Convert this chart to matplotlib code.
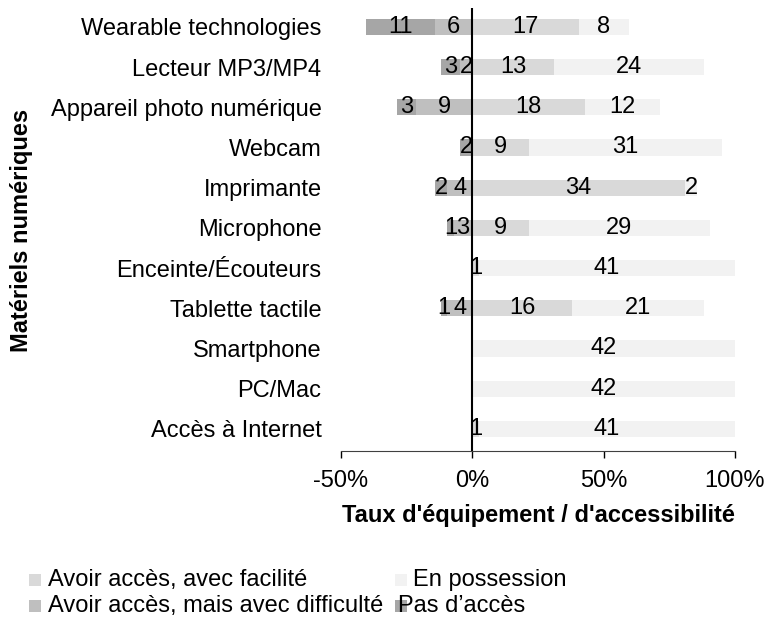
import matplotlib
matplotlib.use('Agg')
import matplotlib.pyplot as plt
from matplotlib.patches import Rectangle
from matplotlib.ticker import FuncFormatter

plt.rcParams['font.family'] = ['Liberation Sans', 'DejaVu Sans']

categories = [
    'Wearable technologies', 'Lecteur MP3/MP4', 'Appareil photo numérique',
    'Webcam', 'Imprimante', 'Microphone', 'Enceinte/Écouteurs',
    'Tablette tactile', 'Smartphone', 'PC/Mac', 'Accès à Internet',
]
pas_acces = [11, 3, 3, 2, 2, 1, 0, 1, 0, 0, 0]
difficulte = [6, 2, 9, 0, 4, 3, 0, 4, 0, 0, 0]
facilite = [17, 13, 18, 9, 34, 9, 1, 16, 0, 0, 1]
possession = [8, 24, 12, 31, 2, 29, 41, 21, 42, 42, 41]

series_names = ['Avoir accès, avec facilité', 'En possession',
                'Avoir accès, mais avec difficulté', "Pas d’accès"]
colors = {'pas': '#a6a6a6', 'diff': '#bfbfbf', 'fac': '#d9d9d9', 'pos': '#f2f2f2'}

FS = 17
fig = plt.figure(figsize=(7.68, 6.38), dpi=100)
ax = fig.add_axes([341 / 768, 1 - 451 / 638, (735 - 341) / 768, (451 - 8) / 638])

y = list(range(len(categories)))
h = 0.4


def seg(y_i, left, width, count, color):
    ax.barh(y_i, width, left=left, height=h, color=color, linewidth=0)
    if count:
        ax.text(left + width / 2, y_i, str(count), ha='center', va='center', fontsize=FS)


for y_i in y:
    total = pas_acces[y_i] + difficulte[y_i] + facilite[y_i] + possession[y_i]
    p = pas_acces[y_i] / total * 100
    d = difficulte[y_i] / total * 100
    f = facilite[y_i] / total * 100
    o = possession[y_i] / total * 100
    seg(y_i, -d - p, p, pas_acces[y_i], colors['pas'])
    seg(y_i, -d, d, difficulte[y_i], colors['diff'])
    seg(y_i, 0, f, facilite[y_i], colors['fac'])
    seg(y_i, f, o, possession[y_i], colors['pos'])

ax.set_xlim(-50, 100)
ax.set_ylim(len(categories) - 0.45, -0.47)
ax.set_xticks([-50, 0, 50, 100])
ax.xaxis.set_major_formatter(FuncFormatter(lambda v, _: f'{v:.0f}%'))
ax.set_yticks(y)
ax.set_yticklabels(categories)
ax.tick_params(axis='y', length=0, pad=14, labelsize=FS)
ax.tick_params(axis='x', length=5, width=1, labelsize=FS, pad=9, color='#000000')
for s in ['top', 'right', 'left']:
    ax.spines[s].set_visible(False)
ax.spines['bottom'].set_color('#404040')
ax.axvline(0, color='black', linewidth=1.5)

ax.set_xlabel("Taux d'équipement / d'accessibilité", fontsize=FS, fontweight='bold', labelpad=8)
fig.text(22 / 768, 1 - 230 / 638, 'Matériels numériques', rotation=90, fontsize=FS,
         fontweight='bold', ha='center', va='center')

# manual legend, Excel-style (last entry overlaps like in the original)
leg_pos = [(29, 48, 580), (395, 413, 580), (29, 48, 606), (395, 398, 606)]
leg_colors = [colors['fac'], colors['pos'], colors['diff'], colors['pas']]
for (mx, tx, yy), name, c in zip(leg_pos, series_names, leg_colors):
    fig.patches.append(Rectangle((mx / 768, 1 - (yy + 6) / 638), 12 / 768, 12 / 638,
                                 transform=fig.transFigure, color=c, linewidth=0))
    fig.text(tx / 768, 1 - yy / 638, name, fontsize=FS, ha='left', va='center')

fig.savefig('out.png', dpi=100)
